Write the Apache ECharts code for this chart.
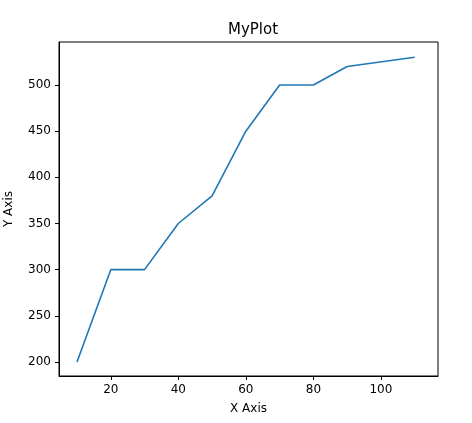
<!DOCTYPE html>
<html><head><meta charset="utf-8">
<script src="https://cdn.jsdelivr.net/npm/echarts@6/dist/echarts.min.js"></script>
<style>html,body{margin:0;padding:0;background:#fff}#c{width:472px;height:423px}</style>
</head><body><div id="c"></div>
<script>
const xValues = [10, 20, 30, 40, 50, 60, 70, 80, 90, 110];
const yValues = [200, 300, 300, 350, 380, 450, 500, 500, 520, 530];
const xTicks = [20, 40, 60, 80, 100];
const yTicks = [200, 250, 300, 350, 400, 450, 500];
const chart = echarts.init(document.getElementById('c'));
const font = 'DejaVu Sans';
chart.setOption({
  animation: false,
  title: {text: 'MyPlot', left: 248, top: 18, textAlign: 'center',
    textStyle: {fontFamily: font, fontSize: 15, fontWeight: 'normal', color: '#000'}},
  grid: {left: 59, right: 34, top: 42, bottom: 47, containLabel: false, outerBoundsMode: 'none',
    show: true, borderColor: '#000', borderWidth: 1},
  xAxis: {type: 'value', min: 4.67, max: 116.9,
    name: 'X Axis', nameLocation: 'middle', nameGap: 27,
    nameTextStyle: {fontFamily: font, fontSize: 12, color: '#000'},
    axisLine: {onZero: false, lineStyle: {color: '#000'}},
    axisTick: {show: true, length: 4, customValues: xTicks},
    splitLine: {show: false},
    axisLabel: {fontFamily: font, fontSize: 12, color: '#000', customValues: xTicks}},
  yAxis: {type: 'value', min: 184.8, max: 546.6,
    name: 'Y Axis', nameLocation: 'middle', nameGap: 44, nameRotate: 90,
    nameTextStyle: {fontFamily: font, fontSize: 12, color: '#000'},
    axisLine: {show: true, onZero: false, lineStyle: {color: '#000'}},
    axisTick: {show: true, length: 4, customValues: yTicks},
    splitLine: {show: false},
    axisLabel: {fontFamily: font, fontSize: 12, color: '#000', customValues: yTicks}},
  series: [{type: 'line', data: xValues.map((x, i) => [x, yValues[i]]),
    showSymbol: false, lineStyle: {color: '#1f77b4', width: 1.6}}]
});
</script></body></html>
